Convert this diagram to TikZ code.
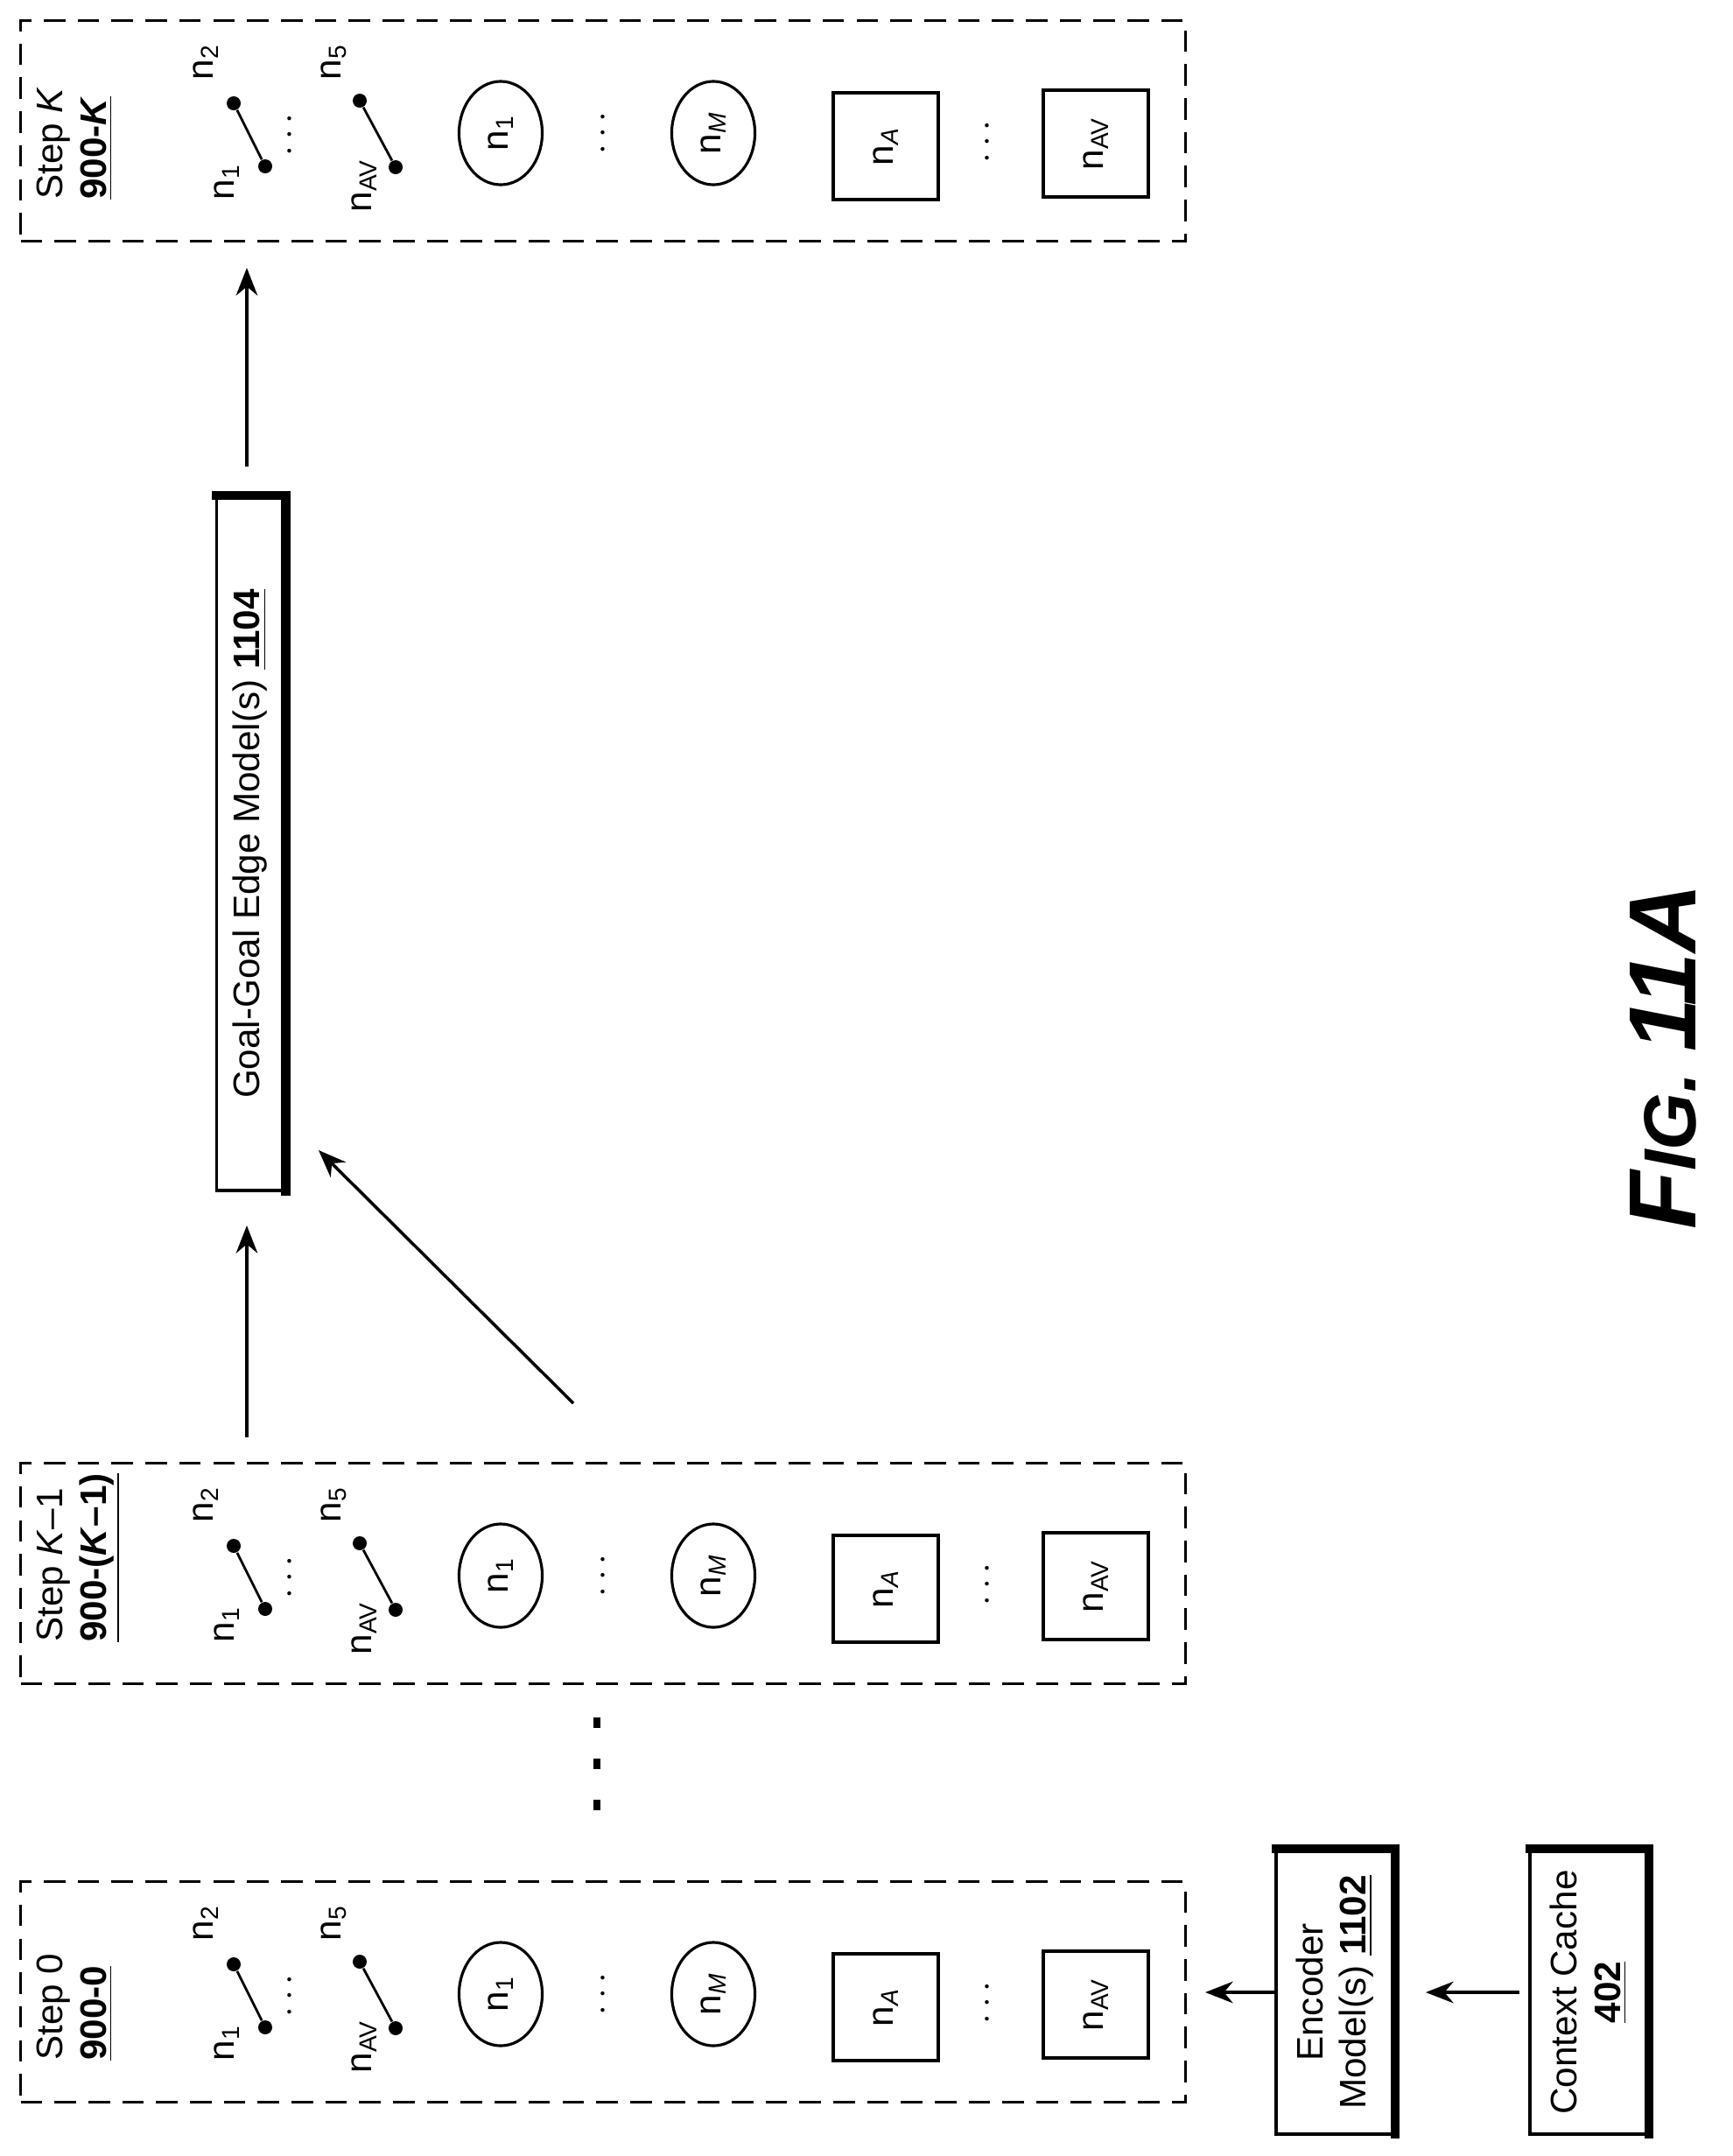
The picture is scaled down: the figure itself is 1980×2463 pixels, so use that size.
\documentclass[tikz,border=0pt]{standalone}
\usepackage{fontspec}
\setmainfont{Liberation Sans}
\usetikzlibrary{arrows.meta, shapes.geometric}

\tikzset{
  stepframe/.style={draw, dashed, dash pattern=on 7pt off 4pt, line width=0.9pt, minimum width=13.3cm, minimum height=2.52cm, anchor=north west, inner sep=0pt},
  ring/.style={draw, ellipse, line width=0.9pt, minimum width=1.18cm, minimum height=0.95cm, inner sep=0pt},
  sq/.style={draw, line width=0.9pt, minimum width=1.22cm, minimum height=1.2cm, inner sep=0pt},
  pt/.style={fill, circle, inner sep=0pt, minimum size=0.16cm},
  lbl/.style={rotate=90, font=\fontsize{12}{14}\selectfont},
  modelbox/.style={draw, line width=1pt, inner sep=0pt},
  flow/.style={-{Stealth[length=9pt,width=7pt]}, line width=1pt}
}
\newcommand{\nn}[1]{n\textsubscript{#1}}

% contents of one step box, #1 = prefix, #2 = top left corner
\newcommand{\stepcontents}[2]{%
  \begin{scope}[shift={#2}]
    \node[pt] (#1b2) at (245,96) {};
    \node[pt] (#1b1) at (281,168) {};
    \draw[line width=0.8pt] (#1b2) -- (#1b1);
    \node[lbl] at (213,49) {\nn{2}};
    \node[lbl] at (237,186) {\nn{1}};
    \node[lbl] at (310,132) {$\cdots$};
    \node[pt] (#1b5) at (389,93) {};
    \node[pt] (#1bav) at (430,169) {};
    \draw[line width=0.8pt] (#1b5) -- (#1bav);
    \node[lbl] at (359,49) {\nn{5}};
    \node[lbl] at (394,190) {\nn{AV}};
    \node[ring, lbl] (#1c1) at (550,130) {\nn{1}};
    \node[lbl] at (668,130) {$\cdots$};
    \node[ring, lbl] (#1cm) at (793,130) {\nn{\textit{M}}};
    \node[sq, lbl] (#1sa) at (990,145) {\nn{\textit{A}}};
    \node[lbl] at (1107,140) {$\cdots$};
    \node[sq, lbl] (#1sav) at (1230,142) {\nn{AV}};
  \end{scope}}

\begin{document}
\begin{tikzpicture}[x=0.01cm, y=-0.01cm]
  \useasboundingbox (0,0) rectangle (1980,2463);

  % step boxes
  \node[stepframe] (stepK) at (22,22) {};
  \node[lbl, anchor=north west, align=left] at (30,240) {Step \textit{K}\\\underline{\textbf{900-\textit{K}}}};
  \stepcontents{K}{(22,22)}

  \node[stepframe] (stepKm) at (22,1670) {};
  \node[lbl, anchor=north west, align=left] at (30,1888) {Step \textit{K}--1\\\underline{\textbf{900-(\textit{K}--1)}}};
  \stepcontents{Km}{(22,1670)}

  \node[stepframe] (step0) at (22,2148) {};
  \node[lbl, anchor=north west, align=left] at (30,2366) {Step 0\\\underline{\textbf{900-0}}};
  \stepcontents{Z}{(22,2148)}

  % vertical ellipsis between steps
  \foreach \y in {1968,2015,2062}
    \fill (678,\y-6) rectangle (686,\y+6);

  % models
  \node[modelbox, lbl, minimum width=7.92cm, minimum height=0.77cm] (goal) at (286,964) {Goal-Goal Edge Model(s) \underline{\textbf{1104}}};
  \draw[line width=3pt] ([xshift=-1pt]goal.north east) -- (goal.south east) -- ([yshift=-1pt]goal.south west);

  \node[modelbox, lbl, minimum width=3.24cm, minimum height=1.34cm, align=center] (enc) at (1525,2276) {Encoder\\Model(s) \underline{\textbf{1102}}};
  \draw[line width=3pt] ([xshift=-1pt]enc.north east) -- (enc.south east) -- ([yshift=-1pt]enc.south west);

  \node[modelbox, lbl, minimum width=3.24cm, minimum height=1.34cm, align=center] (cache) at (1815,2276) {Context Cache\\\underline{\textbf{402}}};
  \draw[line width=3pt] ([xshift=-1pt]cache.north east) -- (cache.south east) -- ([yshift=-1pt]cache.south west);

  % connectors
  \coordinate (kmtop) at (282,1642);
  \coordinate (kmdiag) at (655,1603);
  \coordinate (goalin) at (364,1314);
  \coordinate (goalout) at (282,533);
  \coordinate (kin) at (282,306);
  \coordinate (goalbot) at (282,1400);
  \draw[flow] (kmtop) -- (goalbot);
  \draw[flow] (kmdiag) -- (goalin);
  \draw[flow] (goalout) -- (kin);
  \draw[flow] (enc.north) -- ([xshift=6pt]step0.east |- enc.north);
  \draw[flow] ([xshift=-3pt]cache.north) -- ([xshift=10pt]enc.south);

  % figure label
  \node[rotate=90, font=\bfseries\itshape] (fig) at (1900,1207) {\fontsize{31}{36}\selectfont F\fontsize{24}{28}\selectfont IG. \fontsize{31}{36}\selectfont 11A};
\end{tikzpicture}
\end{document}
